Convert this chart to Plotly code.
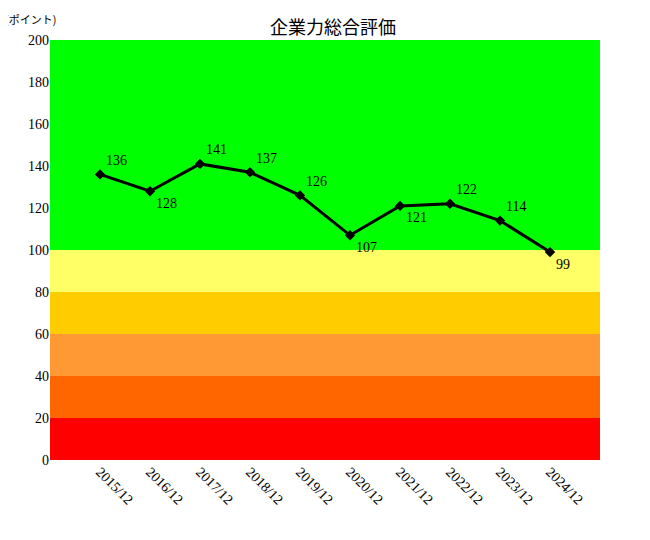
import plotly.graph_objects as pgo

periods = ['2015/12', '2016/12', '2017/12', '2018/12', '2019/12',
           '2020/12', '2021/12', '2022/12', '2023/12', '2024/12']
scores = [136, 128, 141, 137, 126, 107, 121, 122, 114, 99]
label_pos = ['top right', 'bottom right', 'top right', 'top right', 'top right',
             'bottom right', 'bottom right', 'top right', 'top right', 'bottom right']

band_edges = [0, 20, 40, 60, 80, 100, 200]
band_colors = ['#ff0000', '#ff6600', '#ff9933', '#ffcc00', '#ffff66', '#00ff00']

xs = list(range(1, len(periods) + 1))
serif = 'Liberation Serif, DejaVu Serif, serif'

fig = pgo.Figure()
for lo, hi, col in zip(band_edges[:-1], band_edges[1:], band_colors):
    fig.add_shape(type='rect', xref='paper', yref='y', x0=0, x1=1, y0=lo, y1=hi,
                  fillcolor=col, line={'width': 0}, layer='below')

fig.add_trace(pgo.Scatter(
    x=xs, y=scores,
    mode='lines+markers+text',
    text=[str(v) for v in scores],
    textposition=label_pos,
    textfont={'family': serif, 'size': 14, 'color': 'black'},
    line={'color': 'black', 'width': 3},
    marker={'color': 'black', 'size': 8, 'symbol': 'diamond'},
    showlegend=False,
))

fig.update_layout(
    width=650, height=540,
    margin=dict(l=42, r=58, t=32, b=88),
    paper_bgcolor='white', plot_bgcolor='white',
    title=dict(text='企業力総合評価', x=0.5, xanchor='center', y=0.975,
               font=dict(family='Noto Sans CJK JP', size=18, color='black')),
    xaxis=dict(range=[0, 11], tickmode='array', tickvals=xs, ticktext=periods,
               tickangle=45, showgrid=False, zeroline=False, showline=False,
               tickfont=dict(family=serif, size=14, color='black')),
    yaxis=dict(range=[0, 200], dtick=20, showgrid=False, zeroline=False,
               showline=False, ticks='',
               tickfont=dict(family=serif, size=14, color='black')),
    annotations=[dict(text='(ポイント)', xref='paper', yref='paper', x=-0.085, y=1.05,
                      xanchor='left', yanchor='middle', showarrow=False,
                      font=dict(family='Noto Sans CJK JP', size=11, color='black'))],
)

fig.write_html('out.html')
